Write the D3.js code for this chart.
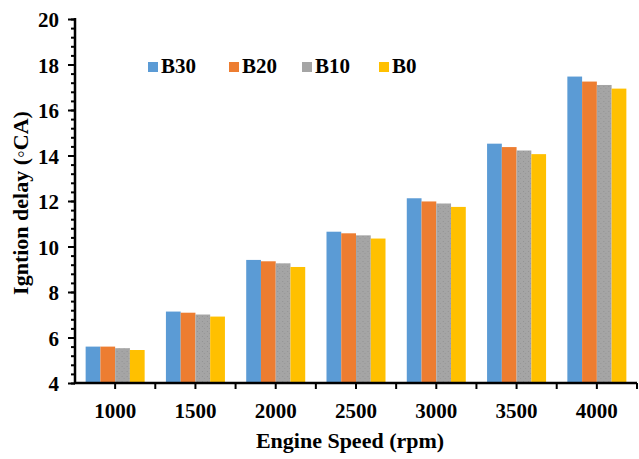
<!DOCTYPE html>
<html>
<head>
<meta charset="utf-8">
<script src="https://cdn.jsdelivr.net/npm/d3@7"></script>
<style>
  html, body { margin: 0; padding: 0; background: #fff; }
  svg { display: block; }
  svg text { font-family: "Times New Roman", "Liberation Serif", "DejaVu Serif", serif; font-weight: bold; fill: #000; }
</style>
</head>
<body>
<svg id="chart" width="639" height="459"></svg>
<script>
// Engine speeds (rpm) on the x axis
const speeds = ["1000", "1500", "2000", "2500", "3000", "3500", "4000"];
// Blend names in legend order
const blends = ["B30", "B20", "B10", "B0"];
// Ignition delay (°CA) per blend, one value per engine speed
const b30 = [5.60, 7.14, 9.41, 10.65, 12.12, 14.52, 17.47];
const b20 = [5.60, 7.09, 9.35, 10.58, 11.98, 14.37, 17.25];
const b10 = [5.53, 7.01, 9.26, 10.49, 11.89, 14.22, 17.10];
const b0  = [5.45, 6.92, 9.10, 10.35, 11.74, 14.06, 16.94];
// Y axis tick values
const yTicks = [4, 6, 8, 10, 12, 14, 16, 18, 20];

const series = [b30, b20, b10, b0];
const colors = ["#5B9BD5", "#ED7D31", "url(#grayDots)", "#FFC000"];
const swatch = ["#5B9BD5", "#ED7D31", "#A5A5A5", "#FFC000"];
const serif = '"Times New Roman", "Liberation Serif", "DejaVu Serif", serif';

const svg = d3.select("#chart");
const plotL = 75, plotR = 637, plotT = 19, plotB = 383;

// Light dotted texture used on the grey series
const pat = svg.append("defs").append("pattern")
  .attr("id", "grayDots").attr("patternUnits", "userSpaceOnUse")
  .attr("width", 5).attr("height", 5);
pat.append("rect").attr("width", 5).attr("height", 5).attr("fill", "#A5A5A5");
pat.append("rect").attr("x", 1).attr("y", 1).attr("width", 1).attr("height", 1).attr("fill", "#939393");
pat.append("rect").attr("x", 3).attr("y", 3).attr("width", 1).attr("height", 1).attr("fill", "#979797");

const x = d3.scaleBand().domain(speeds).range([plotL, plotR])
  .paddingInner(0.265).paddingOuter(0.1325);
const xi = d3.scaleBand().domain(blends).range([0, x.bandwidth()]);
const y = d3.scaleLinear().domain([4, 20]).range([plotB, plotT]);

// Bars
const groups = svg.append("g").selectAll("g")
  .data(speeds).join("g")
  .attr("transform", d => `translate(${x(d)},0)`);
groups.selectAll("rect")
  .data((d, i) => blends.map((b, j) => ({ b, j, v: series[j][i] })))
  .join("rect")
  .attr("x", d => xi(d.b))
  .attr("width", xi.bandwidth())
  .attr("y", d => y(d.v))
  .attr("height", d => y(4) - y(d.v))
  .attr("fill", d => colors[d.j]);

// Y axis with major and minor ticks
const yAxis = svg.append("g").attr("transform", `translate(${plotL},0)`);
yAxis.append("g")
  .call(d3.axisLeft(y).tickValues(d3.range(4, 20.01, 0.4)).tickSize(4).tickFormat(""))
  .call(g => g.select(".domain").remove());
yAxis.append("g")
  .call(d3.axisLeft(y).tickValues(yTicks).tickSize(7).tickFormat(d3.format("d")))
  .call(g => g.select(".domain").remove());
yAxis.selectAll("g").attr("font-family", serif);
yAxis.selectAll(".tick line").attr("stroke", "#000").attr("stroke-width", 2);
yAxis.selectAll(".tick text").attr("x", -16).attr("dy", "0.36em").attr("fill", "#000")
  .style("font-size", "21px");
yAxis.append("line").attr("x1", 0).attr("x2", 0).attr("y1", plotT - 1).attr("y2", plotB + 1)
  .attr("stroke", "#000").attr("stroke-width", 2.5);

// X axis: ticks at category centres and boundaries
const step = x.step();
const xAxis = svg.append("g").attr("transform", `translate(0,${plotB})`);
xAxis.append("line").attr("x1", plotL - 1).attr("x2", plotR).attr("y1", 0).attr("y2", 0)
  .attr("stroke", "#000").attr("stroke-width", 2.5);
xAxis.selectAll("line.tk")
  .data(d3.range(1, speeds.length * 2 + 1))
  .join("line").attr("class", "tk")
  .attr("x1", k => plotL + k * step / 2).attr("x2", k => plotL + k * step / 2)
  .attr("y1", 0).attr("y2", 6)
  .attr("stroke", "#000").attr("stroke-width", 2);
xAxis.selectAll("text")
  .data(speeds).join("text")
  .attr("x", d => x(d) + x.bandwidth() / 2)
  .attr("y", 35)
  .attr("text-anchor", "middle")
  .style("font-size", "21px")
  .text(d => d);

// Axis titles
svg.append("text")
  .attr("x", 350).attr("y", 448)
  .attr("text-anchor", "middle").style("font-size", "22px")
  .text("Engine Speed (rpm)");
svg.append("text")
  .attr("transform", "translate(28,203) rotate(-90)")
  .attr("text-anchor", "middle").style("font-size", "22px")
  .text("Igntion delay (◦CA)");

// Legend
const legendX = [148, 229, 302, 379];
const legend = svg.append("g").selectAll("g")
  .data(blends).join("g")
  .attr("transform", (d, i) => `translate(${legendX[i]},62)`);
legend.append("rect").attr("width", 10).attr("height", 10)
  .attr("fill", (d, i) => swatch[i]);
legend.append("text").attr("x", 13).attr("y", 11)
  .style("font-size", "21px").text(d => d);
</script>
</body>
</html>
